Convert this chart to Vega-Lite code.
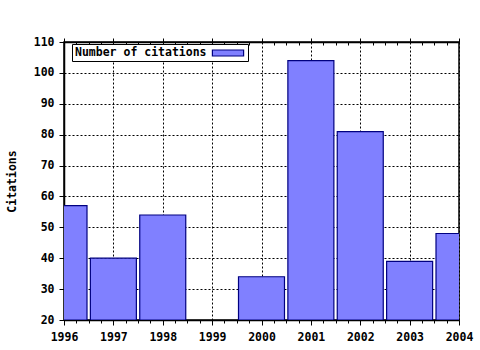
{
  "$schema": "https://vega.github.io/schema/vega-lite/v6.json",
  "width": 395,
  "height": 278,
  "autosize": {"type": "none"},
  "padding": {"left": 64, "top": 42, "right": 21, "bottom": 30},
  "background": "white",
  "config": {
    "view": {"stroke": "black", "strokeWidth": 1.5},
    "font": "DejaVu Sans Mono",
    "axis": {
      "labelFont": "DejaVu Sans Mono", "labelFontWeight": "bold", "labelFontSize": 11.5, "labelColor": "black",
      "titleFont": "DejaVu Sans Mono", "titleFontWeight": "bold", "titleFontSize": 11.5, "titleColor": "black",
      "domainColor": "black", "domainWidth": 1.5, "tickColor": "black", "tickWidth": 1,
      "gridColor": "black", "gridDash": [2, 2], "gridOpacity": 1, "gridWidth": 1
    },
    "legend": {
      "labelFont": "DejaVu Sans Mono", "labelFontWeight": "bold", "labelFontSize": 11.5, "labelColor": "black"
    }
  },
  "data": {
    "values": [
      {"year": 1996, "citations": 57},
      {"year": 1997, "citations": 40},
      {"year": 1998, "citations": 54},
      {"year": 2000, "citations": 34},
      {"year": 2001, "citations": 104},
      {"year": 2002, "citations": 81},
      {"year": 2003, "citations": 39},
      {"year": 2004, "citations": 48}
    ]
  },
  "layer": [
    {
      "mark": {"type": "bar", "size": 46, "clip": true, "stroke": "#000080", "strokeWidth": 1.2, "opacity": 1},
      "encoding": {
        "x": {
          "field": "year", "type": "quantitative",
          "scale": {"domain": [1996, 2004], "nice": false, "zero": false, "padding": 0},
          "axis": {
            "orient": "bottom", "title": null, "grid": true,
            "values": [1996, 1996.25, 1996.5, 1996.75, 1997, 1997.25, 1997.5, 1997.75, 1998, 1998.25, 1998.5, 1998.75, 1999, 1999.25, 1999.5, 1999.75, 2000, 2000.25, 2000.5, 2000.75, 2001, 2001.25, 2001.5, 2001.75, 2002, 2002.25, 2002.5, 2002.75, 2003, 2003.25, 2003.5, 2003.75, 2004],
            "labelExpr": "datum.value % 1 === 0 ? '' + datum.value : ''",
            "tickSize": {"condition": {"test": "datum.value % 1 === 0", "value": 5}, "value": 3},
            "gridOpacity": {"condition": {"test": "datum.value % 1 === 0", "value": 1}, "value": 0},
            "labelFlush": false, "labelOverlap": false, "labelPadding": 6
          }
        },
        "y": {
          "field": "citations", "type": "quantitative",
          "scale": {"domain": [20, 110], "nice": false, "zero": false},
          "axis": {
            "values": [20, 30, 40, 50, 60, 70, 80, 90, 100, 110],
            "title": "Citations", "grid": true, "tickSize": 5, "labelPadding": 5, "titlePadding": 16
          }
        },
        "y2": {"datum": 20},
        "color": {
          "datum": "Number of citations",
          "scale": {"range": ["#8080ff"]},
          "legend": {
            "title": null, "orient": "none", "legendX": 8, "legendY": 2,
            "strokeColor": "black", "fillColor": "white", "padding": 2,
            "symbolType": "M-2.6,-0.5H2.6V0.5H-2.6Z", "symbolSize": 144,
            "symbolStrokeColor": "#000080", "symbolStrokeWidth": 1.2,
            "symbolOffset": 147, "labelOffset": -160
          }
        }
      }
    },
    {
      "mark": {"type": "point", "opacity": 0},
      "encoding": {
        "x": {
          "field": "year", "type": "quantitative",
          "scale": {"domain": [1996, 2004], "nice": false, "zero": false, "padding": 0},
          "axis": {
            "orient": "top", "title": null, "grid": false, "labels": false,
            "values": [1996, 1996.25, 1996.5, 1996.75, 1997, 1997.25, 1997.5, 1997.75, 1998, 1998.25, 1998.5, 1998.75, 1999, 1999.25, 1999.5, 1999.75, 2000, 2000.25, 2000.5, 2000.75, 2001, 2001.25, 2001.5, 2001.75, 2002, 2002.25, 2002.5, 2002.75, 2003, 2003.25, 2003.5, 2003.75, 2004],
            "tickSize": {"condition": {"test": "datum.value % 1 === 0", "value": 4}, "value": -3}
          }
        }
      }
    }
  ],
  "resolve": {"axis": {"x": "independent"}}
}
